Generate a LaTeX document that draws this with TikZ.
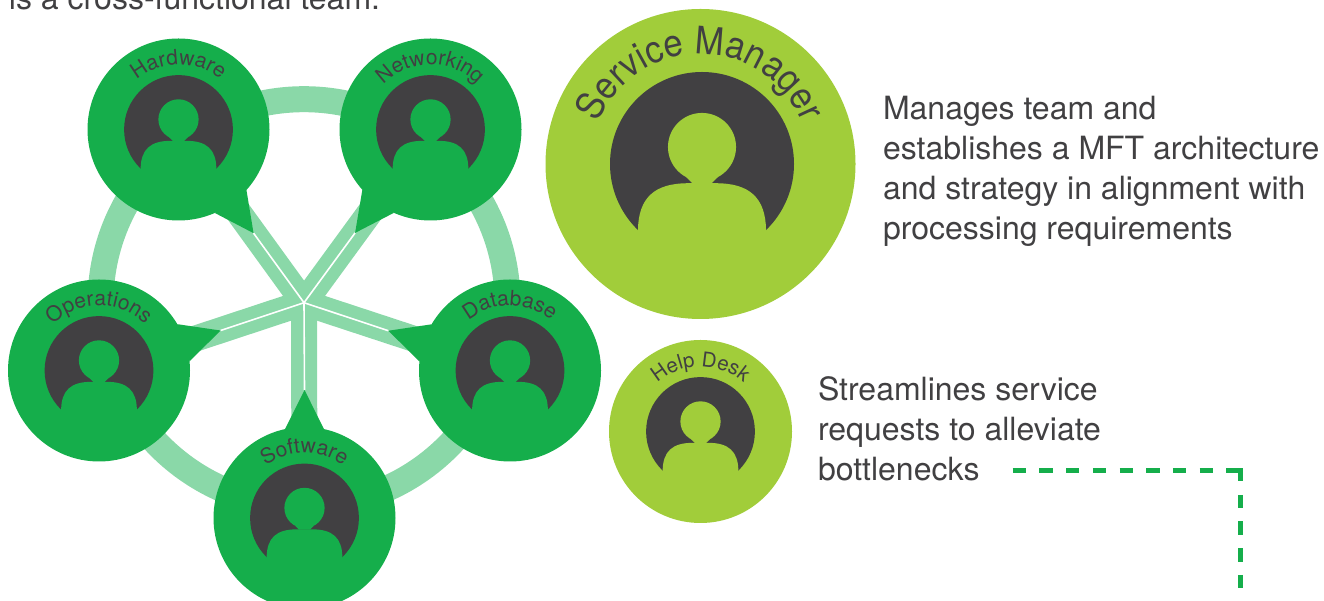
\documentclass[tikz,border=0pt]{standalone}
\usepackage{fontspec}
\setmainfont{TeX Gyre Heros}
\newfontfamily\arcnarrow[FakeStretch=0.91]{TeX Gyre Heros}
\usetikzlibrary{calc,decorations.text}
\definecolor{tgreen}{HTML}{15AE4B}
\definecolor{tlime}{HTML}{A1CD3A}
\definecolor{tlight}{HTML}{8AD8A8}
\definecolor{tdark}{HTML}{414042}
\tikzset{
  disc/.style={circle,draw=none,fill=#1,inner sep=0pt,outer sep=0pt},
  ringline/.style={draw=tlight,line width=26pt},
  spoke/.style={draw=tlight,line width=26pt},
  hairline/.style={draw=white,line width=1.6pt},
  body/.style={anchor=base west,inner sep=0pt,outer sep=0pt,text=tdark,font=\fontsize{32}{40}\selectfont,align=left},
  dashline/.style={draw=tgreen,line width=5pt,dash pattern=on 13.35pt off 13.35pt},
}
\newcommand{\innerdx}{0}
\newcommand{\labelfont}{\normalfont}
% name, cx, cy, R, r, colour, font size, text radius, label
\newcommand{\persondisc}[9]{%
  \node[disc=#6,minimum size=#4*2pt] (#1) at (#2,#3) {};
  \begin{scope}[shift={(#2+\innerdx,#3)},x=#5pt,y=#5pt]
    \fill[tdark] (0,0) circle (1);
    \fill[#6] (0,0.185) circle (0.37);
    \fill[#6] (-0.1,-0.215) -- (-0.175,-0.14) -- (0.175,-0.14) -- (0.1,-0.215) -- cycle;
    \fill[#6] (-0.696,-1.03) -- (-0.696,-0.715)
      .. controls (-0.69,-0.37) and (-0.52,-0.209) .. (-0.15,-0.209)
      -- (0.15,-0.209)
      .. controls (0.52,-0.209) and (0.69,-0.37) .. (0.696,-0.715)
      -- (0.696,-1.03) -- cycle;
  \end{scope}
  \path[decorate,decoration={text along path,text align=center,
      text={|\labelfont\fontsize{#7}{#7}\selectfont\color{tdark}|#9}}]
    ($(#1)+(172:#8pt)$) arc[start angle=172,end angle=8,radius=#8pt];
}
% name, node angle towards the hub
\newcommand{\persontail}[3]{%
  \coordinate (#1tip) at ($(#1)+(#2:128pt)$);
  \fill[#3] ($(#1)+(#2+12.4:91pt)$) -- (#1tip) -- ($(#1)+(#2-12.4:91pt)$) -- cycle;
}
\begin{document}
\begin{tikzpicture}[x=1pt,y=1pt]
  \clip (0,0) rectangle (1324,601);
  \coordinate (hub) at (304,298.3);
  \draw[ringline] (hub) circle (203.5pt);

  \coordinate (hwpos) at (178.5,471.5);
  \coordinate (nwpos) at (430.5,471.5);
  \coordinate (oppos) at (99,230.5);
  \coordinate (dbpos) at (510,230.5);
  \coordinate (swpos) at (304.5,83);

  \draw[spoke] (hub) -- (hwpos);
  \draw[spoke] (hub) -- (nwpos);
  \draw[spoke] (hub) -- (oppos);
  \draw[spoke] (hub) -- (dbpos);
  \draw[spoke] (hub) -- (swpos);

  \persondisc{hw}{178.5}{471.5}{91}{54.4}{tgreen}{21}{65}{Hardware}
  \persondisc{nw}{430.5}{471.5}{91}{54.4}{tgreen}{21}{65}{Networking}
  \persondisc{op}{99}{230.5}{91}{54.4}{tgreen}{21}{65}{Operations}
  \persondisc{db}{510}{230.5}{91}{54.4}{tgreen}{21}{65}{Database}
  \persondisc{sw}{304.5}{83}{91}{54.4}{tgreen}{21}{65}{Software}

  \persontail{hw}{-54.1}{tgreen}
  \persontail{nw}{233.9}{tgreen}
  \persontail{op}{18.2}{tgreen}
  \persontail{db}{161.9}{tgreen}
  \persontail{sw}{90}{tgreen}

  \draw[hairline] (hub) -- (hwtip);
  \draw[hairline] (hub) -- (nwtip);
  \draw[hairline] (hub) -- (optip);
  \draw[hairline] (hub) -- (dbtip);
  \draw[hairline] (hub) -- (swtip);

  \renewcommand{\innerdx}{1.5}
  \renewcommand{\labelfont}{\arcnarrow}
  \persondisc{sm}{700.5}{437}{155}{92}{tlime}{38}{110}{Service Manager}
  \renewcommand{\innerdx}{0}
  \renewcommand{\labelfont}{\normalfont}
  \persondisc{hd}{700.5}{169.5}{91.5}{54.4}{tlime}{20.5}{65}{Help Desk}

  \node[body] (intro) at (9,591) {is a cross-functional team.};
  \node[body] (smtext) at (883,361.5) {Manages team and\\establishes a MFT architecture\\and strategy in alignment with\\processing requirements};
  \node[body] (hdtext) at (818,120.5) {Streamlines service\\requests to alleviate\\bottlenecks};

  \coordinate (dashstart) at (1012.7,130.3);
  \coordinate (dashcorner) at (1240.3,130.3);
  \coordinate (dashtop) at (1240.3,132.9);
  \coordinate (dashend) at (1240.3,13);
  \draw[dashline] (dashstart) -- (dashcorner);
  \draw[dashline] (dashtop) -- (dashend);
\end{tikzpicture}
\end{document}
